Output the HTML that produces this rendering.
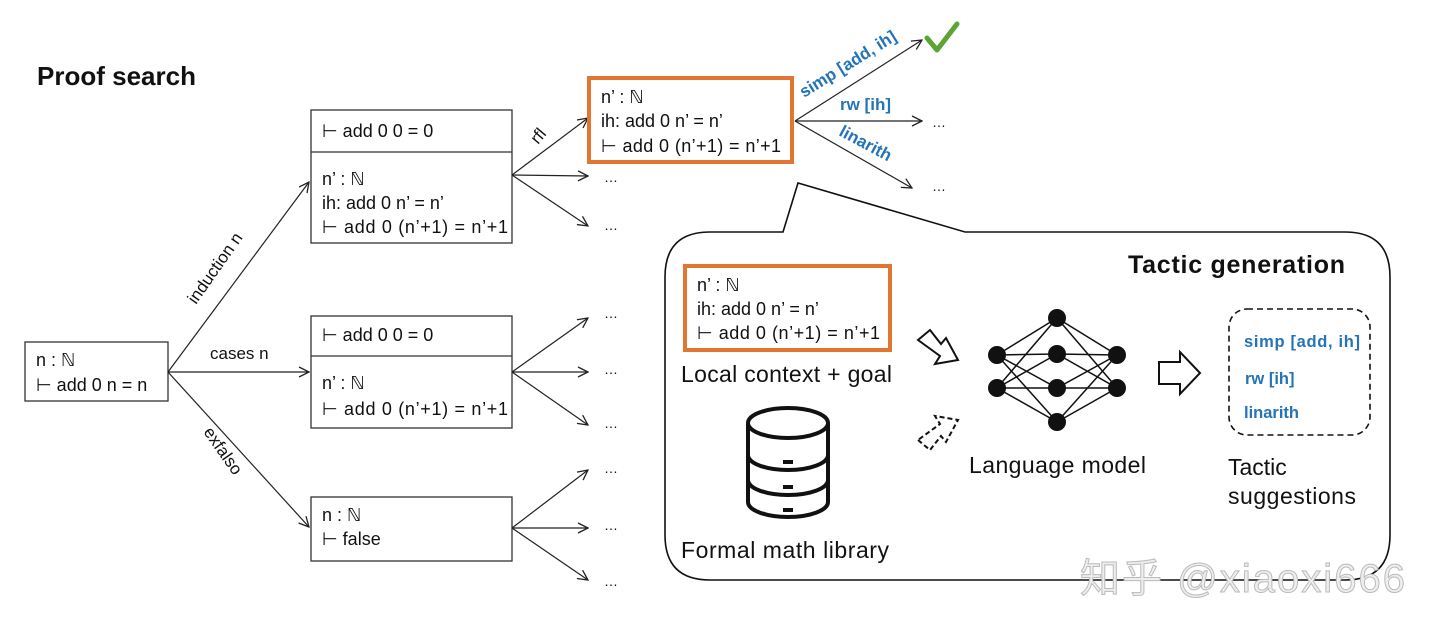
<!DOCTYPE html>
<html><head><meta charset="utf-8"><style>
html,body{margin:0;padding:0;background:#fff;width:1440px;height:635px;overflow:hidden}
svg text{font-family:"Liberation Sans","DejaVu Sans",sans-serif}
</style></head><body>
<svg width="1440" height="635" viewBox="0 0 1440 635" xmlns="http://www.w3.org/2000/svg">
<defs>
<marker id="a" markerWidth="12" markerHeight="12" refX="11" refY="6" orient="auto" markerUnits="userSpaceOnUse">
<path d="M1,1 L11,6 L1,11" fill="none" stroke="#222" stroke-width="1.3"/></marker>
</defs>
<g font-size="18" fill="#111">
<text x="37" y="85" font-size="26" font-weight="bold">Proof search</text>

<rect x="25" y="342" width="143" height="59" fill="none" stroke="#333" stroke-width="1.3"/>
<text x="36" y="366">n : ℕ</text>
<text x="36" y="391">⊢ add 0 n = n</text>

<rect x="311" y="110" width="201" height="133" fill="none" stroke="#333" stroke-width="1.3"/>
<line x1="311" y1="152" x2="512" y2="152" stroke="#333" stroke-width="1.3"/>
<text x="322" y="137">⊢ add 0 0 = 0</text>
<text x="322" y="185">n’ : ℕ</text>
<text x="322" y="209">ih: add 0 n’ = n’</text>
<text x="322" y="233" textLength="186">⊢ add 0 (n’+1) = n’+1</text>

<rect x="311" y="316" width="201" height="112" fill="none" stroke="#333" stroke-width="1.3"/>
<line x1="311" y1="356" x2="512" y2="356" stroke="#333" stroke-width="1.3"/>
<text x="322" y="341">⊢ add 0 0 = 0</text>
<text x="322" y="389">n’ : ℕ</text>
<text x="322" y="415" textLength="186">⊢ add 0 (n’+1) = n’+1</text>

<rect x="311" y="497" width="201" height="64" fill="none" stroke="#333" stroke-width="1.3"/>
<text x="322" y="521">n : ℕ</text>
<text x="322" y="545">⊢ false</text>
</g>

<g stroke="#222" stroke-width="1.2" fill="none" marker-end="url(#a)">
<line x1="168" y1="372" x2="309" y2="182"/>
<line x1="168" y1="372" x2="309" y2="372"/>
<line x1="168" y1="372" x2="309" y2="527"/>
<line x1="512" y1="175" x2="588" y2="118"/>
<line x1="512" y1="175" x2="588" y2="176"/>
<line x1="512" y1="175" x2="588" y2="226"/>
<line x1="512" y1="372" x2="588" y2="318"/>
<line x1="512" y1="372" x2="588" y2="372"/>
<line x1="512" y1="372" x2="588" y2="425"/>
<line x1="512" y1="528" x2="588" y2="470"/>
<line x1="512" y1="528" x2="588" y2="528"/>
<line x1="512" y1="528" x2="588" y2="580"/>
<line x1="795" y1="121" x2="922" y2="40"/>
<line x1="795" y1="121" x2="922" y2="121"/>
<line x1="795" y1="121" x2="912" y2="188"/>
</g>

<g font-size="17" fill="#111">
<text transform="translate(196,305) rotate(-55)">induction n</text>
<text x="210" y="359">cases n</text>
<text transform="translate(203,432) rotate(55)">exfalso</text>
<text transform="translate(538,145) rotate(-50)">rfl</text>
<g font-size="14">
<text x="604" y="182">…</text><text x="604" y="230">…</text>
<text x="604" y="318">…</text><text x="604" y="374">…</text><text x="604" y="428">…</text>
<text x="604" y="473">…</text><text x="604" y="530">…</text><text x="604" y="586">…</text>
<text x="932" y="127">…</text><text x="932" y="191">…</text>
</g>
</g>

<rect x="589" y="78" width="203" height="84" fill="#fff" stroke="#E0762F" stroke-width="4"/>
<g font-size="18" fill="#111">
<text x="601" y="103">n’ : ℕ</text>
<text x="601" y="127">ih: add 0 n’ = n’</text>
<text x="601" y="152" textLength="180">⊢ add 0 (n’+1) = n’+1</text>
</g>
<g font-size="17" font-weight="bold" fill="#2474B8">
<text transform="translate(804,98) rotate(-32)">simp [add, ih]</text>
<text x="840" y="110">rw [ih]</text>
<text transform="translate(838,135) rotate(28)">linarith</text>
</g>
<path d="M927,38 L937,50 L957,24" fill="none" stroke="#5BA534" stroke-width="5" stroke-linecap="round" stroke-linejoin="round"/>

<path d="M783,232 L798,183 L965,232 L1345,232 Q1390,232 1390,277 L1390,535 Q1390,580 1345,580 L710,580 Q665,580 665,535 L665,277 Q665,232 710,232 Z" fill="#fff" stroke="#111" stroke-width="1.6"/>
<text x="1128" y="273" font-size="25" font-weight="bold" fill="#111" textLength="217">Tactic generation</text>

<rect x="685" y="266" width="205" height="84" fill="#fff" stroke="#E0762F" stroke-width="4"/>
<g font-size="18" fill="#111">
<text x="697" y="291">n’ : ℕ</text>
<text x="697" y="315">ih: add 0 n’ = n’</text>
<text x="697" y="339" textLength="183">⊢ add 0 (n’+1) = n’+1</text>
<g font-size="23">
<text x="681" y="382" textLength="211">Local context + goal</text>
<text x="681" y="558" textLength="208">Formal math library</text>
<text x="969" y="473" textLength="177">Language model</text>
<text x="1228" y="475">Tactic</text>
<text x="1228" y="504" textLength="128">suggestions</text>
</g>
</g>

<g fill="#fff" stroke="#111" stroke-width="4">
<path d="M748,423 L748,502 A40,15 0 0 0 828,502 L828,423"/>
<ellipse cx="788" cy="423" rx="40" ry="15"/>
<path d="M748,455 A40,15 0 0 0 828,455" fill="none"/>
<path d="M748,480 A40,15 0 0 0 828,480" fill="none"/>
</g>
<g fill="#111"><rect x="783" y="460" width="10" height="4"/><rect x="783" y="485" width="10" height="4"/><rect x="783" y="508" width="10" height="4"/></g>

<path d="M918,340 L930,330 L941,344 L946,338 L958,360 L935,364 L940,356 Z" fill="#fff" stroke="#111" stroke-width="2"/>
<path d="M918,440 L930,450 L941,436 L946,442 L958,420 L935,416 L940,424 Z" fill="#fff" stroke="#111" stroke-width="2" stroke-dasharray="5,3"/>
<path d="M1159,362 L1180,362 L1180,352 L1200,373 L1180,394 L1180,384 L1159,384 Z" fill="#fff" stroke="#111" stroke-width="2"/>

<g stroke="#111" stroke-width="1.5">
<line x1="997" y1="355" x2="1057" y2="318"/><line x1="997" y1="355" x2="1057" y2="354"/><line x1="997" y1="355" x2="1057" y2="388"/><line x1="997" y1="355" x2="1057" y2="422"/>
<line x1="997" y1="388" x2="1057" y2="318"/><line x1="997" y1="388" x2="1057" y2="354"/><line x1="997" y1="388" x2="1057" y2="388"/><line x1="997" y1="388" x2="1057" y2="422"/>
<line x1="1117" y1="355" x2="1057" y2="318"/><line x1="1117" y1="355" x2="1057" y2="354"/><line x1="1117" y1="355" x2="1057" y2="388"/><line x1="1117" y1="355" x2="1057" y2="422"/>
<line x1="1117" y1="388" x2="1057" y2="318"/><line x1="1117" y1="388" x2="1057" y2="354"/><line x1="1117" y1="388" x2="1057" y2="388"/><line x1="1117" y1="388" x2="1057" y2="422"/>
</g>
<g fill="#111">
<circle cx="997" cy="355" r="9"/><circle cx="997" cy="388" r="9"/>
<circle cx="1057" cy="318" r="9"/><circle cx="1057" cy="354" r="9"/><circle cx="1057" cy="388" r="9"/><circle cx="1057" cy="422" r="9"/>
<circle cx="1117" cy="355" r="9"/><circle cx="1117" cy="388" r="9"/>
</g>

<rect x="1229" y="309" width="141" height="126" rx="18" fill="none" stroke="#111" stroke-width="1.6" stroke-dasharray="6,4"/>
<g font-size="16.5" font-weight="bold" fill="#2474B8">
<text x="1244" y="347" textLength="116">simp [add, ih]</text>
<text x="1245" y="384">rw [ih]</text>
<text x="1244" y="418">linarith</text>
</g>

<text x="1080" y="592" font-size="40" fill="#eee" stroke="#bbb" stroke-width="1" textLength="325" font-family="'Liberation Sans','Noto Sans CJK SC',sans-serif">知乎 @xiaoxi666</text>
</svg>
</body></html>
